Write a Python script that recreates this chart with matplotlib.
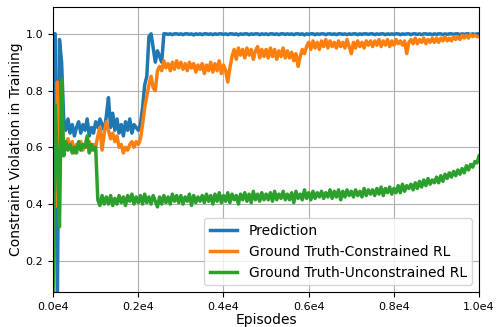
import numpy as np
import matplotlib
matplotlib.use("Agg")
import matplotlib.pyplot as plt
from matplotlib.ticker import FuncFormatter

# ===== Данные (шаг 50 эпизодов) =====
episodes = np.arange(0, 10001, 50)

prediction = [
    1.0, 1.0, 0.05, 0.98, 0.90, 0.70, 0.66, 0.70, 0.65, 0.68,
    0.64, 0.67, 0.69, 0.65, 0.68, 0.66, 0.70, 0.64, 0.67, 0.65,
    0.69, 0.67, 0.70, 0.68, 0.66, 0.71, 0.775, 0.67, 0.72, 0.66,
    0.70, 0.65, 0.68, 0.64, 0.69, 0.66, 0.70, 0.65, 0.68, 0.67,
    0.66, 0.68, 0.74, 0.82, 0.85, 0.99, 1.0, 0.95, 0.90, 0.94,
    0.92, 0.90, 1.0, 1.0, 0.998, 1.0, 0.997, 1.0, 1.0, 0.998,
    1.0, 0.997, 1.0, 1.0, 0.998, 1.0, 0.996, 1.0, 0.998, 1.0,
    0.997, 1.0, 1.0, 0.998, 1.0, 0.997, 1.0, 0.998, 1.0, 1.0,
    0.998, 1.0, 0.997, 1.0, 1.0, 0.998, 1.0, 0.996, 1.0, 0.998,
    1.0, 1.0, 0.997, 1.0, 0.998, 1.0, 1.0, 0.997, 1.0, 0.998,
    1.0, 0.997, 1.0, 1.0, 0.998, 1.0, 0.997, 1.0, 1.0, 0.998,
    1.0, 0.998, 1.0, 0.997, 1.0, 1.0, 0.998, 1.0, 0.996, 1.0,
    0.998, 1.0, 1.0, 0.997, 1.0, 0.998, 1.0, 1.0, 0.997, 1.0,
    1.0, 0.998, 1.0, 0.997, 1.0, 1.0, 0.998, 1.0, 0.997, 1.0,
    0.998, 1.0, 1.0, 0.997, 1.0, 0.998, 1.0, 1.0, 0.998, 1.0,
    1.0, 0.997, 1.0, 0.998, 1.0, 1.0, 0.997, 1.0, 0.998, 1.0,
    0.998, 1.0, 1.0, 0.997, 1.0, 0.998, 1.0, 1.0, 0.997, 1.0,
    1.0, 0.998, 1.0, 0.997, 1.0, 1.0, 0.998, 1.0, 0.997, 1.0,
    0.998, 1.0, 1.0, 0.997, 1.0, 0.998, 1.0, 1.0, 0.998, 1.0,
    1.0, 0.997, 1.0, 0.998, 1.0, 1.0, 0.997, 1.0, 0.998, 1.0,
    1.0,
]

constrained = [
    0.60, 0.39, 0.83, 0.60, 0.62, 0.59, 0.61, 0.63, 0.60, 0.62,
    0.58, 0.61, 0.60, 0.62, 0.59, 0.61, 0.60, 0.62, 0.59, 0.61,
    0.60, 0.64, 0.67, 0.59, 0.65, 0.69, 0.66, 0.63, 0.65, 0.62,
    0.64, 0.60, 0.61, 0.58, 0.60, 0.59, 0.61, 0.62, 0.60, 0.62,
    0.61, 0.63, 0.68, 0.74, 0.78, 0.82, 0.85, 0.81, 0.80, 0.87,
    0.885, 0.87, 0.905, 0.88, 0.895, 0.87, 0.90, 0.875, 0.905, 0.88,
    0.90, 0.875, 0.895, 0.87, 0.90, 0.88, 0.895, 0.865, 0.89, 0.875,
    0.895, 0.86, 0.89, 0.87, 0.90, 0.865, 0.895, 0.87, 0.905, 0.86,
    0.89, 0.87, 0.83, 0.88, 0.92, 0.945, 0.91, 0.95, 0.925, 0.945,
    0.915, 0.95, 0.925, 0.945, 0.91, 0.94, 0.955, 0.915, 0.945, 0.92,
    0.945, 0.915, 0.95, 0.92, 0.945, 0.91, 0.94, 0.92, 0.95, 0.915,
    0.94, 0.915, 0.935, 0.905, 0.93, 0.885, 0.92, 0.945, 0.93, 0.955,
    0.97, 0.945, 0.975, 0.95, 0.97, 0.945, 0.975, 0.955, 0.98, 0.95,
    0.975, 0.955, 0.97, 0.95, 0.975, 0.955, 0.97, 0.95, 0.98, 0.955,
    0.93, 0.97, 0.95, 0.975, 0.955, 0.97, 0.95, 0.975, 0.96, 0.975,
    0.955, 0.975, 0.96, 0.98, 0.955, 0.975, 0.96, 0.98, 0.955, 0.975,
    0.96, 0.98, 0.965, 0.975, 0.96, 0.975, 0.93, 0.97, 0.98, 0.965,
    0.985, 0.965, 0.98, 0.97, 0.985, 0.965, 0.98, 0.97, 0.985, 0.97,
    0.985, 0.97, 0.985, 0.975, 0.99, 0.975, 0.985, 0.975, 0.99, 0.98,
    0.99, 0.98, 0.995, 0.985, 0.995, 0.985, 0.998, 0.99, 0.995, 0.99,
    0.99,
]

unconstrained = [
    0.05, 0.75, 0.56, 0.32, 0.84, 0.57, 0.62, 0.59, 0.61, 0.58,
    0.60, 0.58, 0.62, 0.59, 0.61, 0.60, 0.64, 0.58, 0.61, 0.59,
    0.60, 0.415, 0.395, 0.43, 0.40, 0.425, 0.40, 0.43, 0.395, 0.42,
    0.40, 0.43, 0.405, 0.425, 0.395, 0.43, 0.41, 0.435, 0.40, 0.425,
    0.405, 0.43, 0.40, 0.435, 0.405, 0.425, 0.40, 0.43, 0.41, 0.39,
    0.425, 0.40, 0.43, 0.405, 0.425, 0.40, 0.435, 0.41, 0.43, 0.405,
    0.43, 0.40, 0.425, 0.41, 0.435, 0.395, 0.43, 0.405, 0.425, 0.41,
    0.43, 0.405, 0.435, 0.41, 0.43, 0.40, 0.435, 0.41, 0.44, 0.405,
    0.43, 0.41, 0.44, 0.405, 0.435, 0.415, 0.43, 0.40, 0.435, 0.415,
    0.44, 0.41, 0.435, 0.405, 0.445, 0.415, 0.435, 0.41, 0.44, 0.415,
    0.435, 0.415, 0.44, 0.41, 0.445, 0.415, 0.435, 0.42, 0.445, 0.415,
    0.435, 0.415, 0.44, 0.405, 0.445, 0.42, 0.435, 0.415, 0.45, 0.42,
    0.44, 0.415, 0.445, 0.42, 0.44, 0.425, 0.445, 0.42, 0.44, 0.425,
    0.45, 0.42, 0.445, 0.425, 0.45, 0.415, 0.445, 0.425, 0.45, 0.43,
    0.445, 0.425, 0.45, 0.43, 0.445, 0.425, 0.455, 0.43, 0.45, 0.435,
    0.45, 0.43, 0.455, 0.435, 0.46, 0.43, 0.455, 0.44, 0.46, 0.435,
    0.455, 0.44, 0.465, 0.44, 0.47, 0.445, 0.465, 0.455, 0.47, 0.45,
    0.475, 0.455, 0.48, 0.46, 0.485, 0.465, 0.49, 0.47, 0.485, 0.475,
    0.495, 0.475, 0.50, 0.48, 0.505, 0.49, 0.51, 0.495, 0.515, 0.50,
    0.52, 0.505, 0.525, 0.51, 0.535, 0.52, 0.54, 0.53, 0.55, 0.545,
    0.57,
]

labels = ['Prediction', 'Ground Truth-Constrained RL', 'Ground Truth-Unconstrained RL']

# ===== График =====
fig = plt.figure(figsize=(4.96, 3.27), dpi=100)
ax = fig.add_axes([0.107, 0.107, 0.859, 0.872])

for series, label in zip([prediction, constrained, unconstrained], labels):
    ax.plot(episodes, series, linewidth=2.5, label=label)

ax.set_xlim(0, 10000)
ax.set_ylim(0.09, 1.095)
ax.set_xticks(np.arange(0, 10001, 2000))
ax.set_yticks([0.2, 0.4, 0.6, 0.8, 1.0])
ax.xaxis.set_major_formatter(FuncFormatter(lambda x, pos: f"{x / 1e4:.1f}e4"))
ax.tick_params(labelsize=8)
ax.grid(True)
ax.set_xlabel('Episodes', fontsize=10, labelpad=1)
ax.set_ylabel('Constraint Violation in Training', fontsize=10, labelpad=2)
ax.legend(loc='lower right', fontsize=10)

fig.savefig('out.png', dpi=100)
